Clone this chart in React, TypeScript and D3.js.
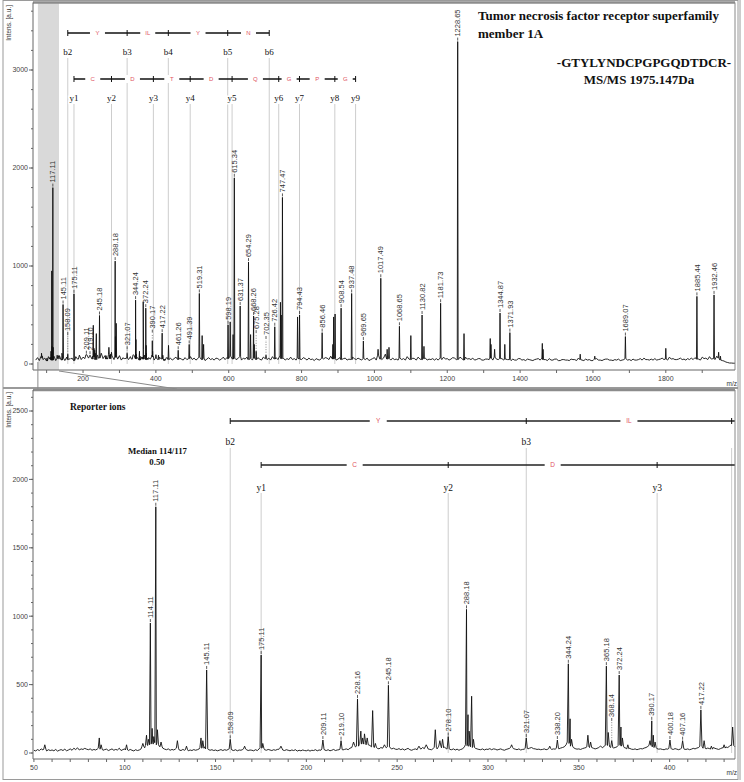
import * as d3 from 'd3';

// fragment ion ladders (m/z)
const bIons = [158.09, 321.07, 434.15, 597.2, 711.24];
const bNames = ['b2', 'b3', 'b4', 'b5', 'b6'];
const bResidues = ['Y', 'IL', 'Y', 'N'];
const yIons = [175.11, 278.1, 393.13, 494.18, 609.2, 737.26, 794.28, 891.33, 948.35];
const yNames = ['y1', 'y2', 'y3', 'y4', 'y5', 'y6', 'y7', 'y8', 'y9'];
const yResidues = ['C', 'D', 'T', 'D', 'Q', 'G', 'P', 'G'];

// annotated peaks [m/z, intensity]
const labelledPeaks: [number, number][] = [
    [114.11, 950], [117.11, 1800], [145.11, 607], [158.09, 100], [175.11, 716],
    [209.11, 95], [219.1, 90], [228.16, 395], [245.18, 495], [278.1, 120],
    [288.18, 1050], [321.07, 110], [338.2, 95], [344.24, 652], [365.18, 635],
    [368.14, 90], [372.24, 570], [390.17, 235], [400.18, 95], [407.16, 90],
    [417.22, 315], [461.26, 140], [491.39, 200], [519.31, 720], [598.19, 400],
    [615.34, 1900], [631.37, 592], [654.29, 1040], [668.26, 490], [675.28, 130],
    [702.35, 90], [726.42, 380], [747.47, 1700], [794.43, 500], [856.46, 320],
    [908.54, 570], [937.48, 720], [969.65, 235], [1017.49, 875], [1068.65, 385],
    [1130.82, 500], [1181.73, 620], [1228.65, 3290], [1344.87, 520], [1371.93, 320],
    [1689.07, 280], [1885.44, 690], [1932.46, 705],
];

// unannotated peaks [m/z, intensity]
const otherPeaks: [number, number][] = [
    [56, 60], [86, 110], [87, 60], [101, 60], [110, 70], [112, 130], [113, 100],
    [115.1, 180], [116, 120], [118, 170], [120, 80], [129, 90], [134, 50], [142, 110],
    [143, 90], [166, 50], [176, 70], [186, 50], [226, 80], [230, 160], [231, 110],
    [232, 140], [233.5, 110], [236.5, 310], [238, 70], [243, 60], [262, 50], [266, 60],
    [271, 170], [273.5, 90], [275, 100], [289, 280], [289.6, 160], [291, 415], [292, 100],
    [313, 60], [334, 50], [345.2, 250], [346, 100], [355, 130], [356.5, 80], [362, 50],
    [366.2, 150], [373.2, 190], [374, 110], [377, 60], [389.2, 90], [391, 130], [392, 80],
    [419, 90], [423, 50], [430, 60], [434.7, 190],
    [527, 290], [531, 200], [604, 430], [612, 300], [660, 300], [670, 200], [742, 630],
    [744, 500], [789, 480], [886, 200], [888, 480], [892, 510], [1010, 150], [1035, 150],
    [1040, 170], [1100, 290], [1136, 180], [1246, 310], [1318, 260], [1320, 200],
    [1330, 150], [1358, 200], [1461, 210], [1463, 150], [1565, 100], [1605, 80],
    [1800, 160], [1945, 120], [1950, 80],
];

const topLabels = [
    117.11, 145.11, 158.09, 175.11, 209.11, 219.1, 245.18, 288.18, 321.07, 344.24, 372.24,
    390.17, 417.22, 461.26, 491.39, 519.31, 598.19, 615.34, 631.37, 654.29, 668.26, 675.28,
    702.35, 726.42, 747.47, 794.43, 856.46, 908.54, 937.48, 969.65, 1017.49, 1068.65,
    1130.82, 1181.73, 1228.65, 1344.87, 1371.93, 1689.07, 1885.44, 1932.46,
];
const bottomLabels = [
    114.11, 117.11, 145.11, 158.09, 175.11, 209.11, 219.1, 228.16, 245.18, 278.1, 288.18,
    321.07, 338.2, 344.24, 365.18, 368.14, 372.24, 390.17, 400.18, 407.16, 417.22,
];

// baseline noise, top: every 5 m/z from 70
const topNoise = [
    40, 65, 35, 80, 45, 60, 30, 75, 50, 40, 70, 35, 55, 85, 40, 60, 35, 70, 45, 55,
    60, 35, 75, 50, 90, 45, 70, 55, 95, 60, 80, 50, 75, 45, 90, 60, 110, 55, 85, 50,
    95, 55, 80, 45, 70, 50, 85, 40, 65, 55, 60, 45, 75, 50, 90, 55, 65, 40, 70, 50,
    80, 45, 65, 50, 75, 40, 60, 45, 70, 50, 55, 35, 65, 45, 60, 40, 55, 70, 45, 60,
    50, 40, 65, 45, 55, 75, 45, 60, 40, 55, 70, 45, 60, 35, 50, 65, 45, 55, 40, 60,
    55, 40, 50, 70, 45, 65, 55, 80, 50, 60, 45, 55, 75, 40, 60, 50, 70, 45, 55, 40,
    60, 45, 65, 50, 40, 70, 55, 45, 60, 40, 75, 50, 65, 45, 80, 55, 60, 40, 55, 45,
    70, 45, 55, 40, 60, 50, 45, 65, 55, 40, 60, 45, 50, 35, 55, 45, 40, 60, 50, 65,
    60, 45, 80, 50, 55, 40, 50, 65, 45, 55, 60, 40, 50, 45, 70, 55, 45, 60, 50, 40,
    55, 45, 60, 35, 45, 55, 65, 40, 90, 50, 45, 60, 100, 50, 55, 40, 60, 45, 50, 40,
    60, 45, 55, 40, 75, 50, 45, 60, 55, 40, 70, 50, 45, 55, 60, 40, 50, 45, 55, 40,
    55, 40, 60, 45, 70, 50, 55, 40, 50, 65, 60, 45, 45, 70, 55, 40, 70, 50, 55, 45,
    60, 40, 45, 55, 55, 40, 40, 50, 50, 45, 60, 40, 70, 50, 45, 55, 55, 40, 50, 45,
    45, 35, 50, 40, 40, 55, 55, 40, 45, 35, 50, 45, 40, 35, 45, 50, 55, 40, 60, 45,
    45, 35, 55, 40, 40, 50, 50, 35, 35, 45, 45, 40, 40, 35, 50, 45, 45, 35, 60, 45,
    40, 35, 50, 40, 45, 35, 35, 50, 55, 40, 40, 35, 45, 50, 50, 40, 40, 35, 45, 40,
    50, 35, 40, 45, 55, 40, 45, 35, 50, 40, 40, 45, 55, 40, 60, 45, 45, 40, 50, 40,
    55, 40, 45, 50, 60, 45, 50, 40, 70, 50, 55, 45, 45, 50, 60, 45, 50, 40, 55, 45,
    60, 45, 65, 50, 50, 40, 70, 55, 60, 45, 75, 50, 55, 45, 80, 60, 40, 35, 30, 20,
    15, 10, 10, 8, 8, 6,
];

// baseline noise, bottom: every 1 m/z from 50
const bottomNoise = [
    20, 15, 25, 18, 30, 22, 28, 15, 24, 18,
    22, 16, 26, 14, 20, 25, 18, 28, 16, 22,
    30, 20, 35, 25, 38, 22, 30, 26, 34, 28,
    24, 30, 20, 26, 22, 30, 35, 28, 20, 25,
    28, 18, 24, 30, 20, 26, 22, 35, 18, 25,
    30, 22, 18, 26, 20, 15, 24, 18, 22, 30,
    45, 38, 55, 60, 70, 65, 80, 75, 60, 50,
    45, 35, 28, 24, 30, 20, 26, 22, 30, 35,
    22, 18, 26, 20, 24, 16, 22, 18, 25, 20,
    24, 30, 40, 35, 45, 30, 26, 20, 24, 18,
    22, 16, 20, 25, 18, 24, 20, 26, 30, 22,
    18, 24, 16, 22, 20, 26, 30, 24, 18, 22,
    20, 16, 24, 18, 30, 40, 35, 24, 20, 26,
    22, 18, 24, 20, 26, 28, 34, 22, 18, 24,
    20, 16, 22, 18, 24, 14, 20, 16, 22, 18,
    16, 22, 14, 20, 18, 24, 16, 22, 20, 30,
    22, 18, 24, 16, 20, 26, 18, 22, 24, 28,
    22, 26, 30, 24, 35, 40, 55, 45, 50, 60,
    70, 65, 80, 75, 60, 55, 50, 45, 40, 35,
    30, 40, 35, 45, 38, 45, 40, 30, 35, 28,
    26, 32, 24, 30, 22, 28, 34, 24, 20, 26,
    30, 24, 36, 28, 40, 32, 44, 30, 26, 24,
    35, 40, 30, 45, 50, 38, 44, 32, 30, 26,
    24, 30, 22, 28, 20, 26, 30, 45, 60, 55,
    50, 45, 40, 35, 30, 26, 24, 30, 22, 28,
    26, 32, 24, 30, 28, 22, 26, 30, 24, 20,
    26, 30, 35, 40, 32, 28, 24, 30, 22, 26,
    28, 34, 30, 36, 40, 32, 30, 26, 28, 24,
    26, 30, 24, 28, 32, 26, 30, 28, 34, 30,
    36, 40, 45, 60, 80, 70, 50, 40, 32, 28,
    30, 26, 32, 36, 40, 45, 50, 40, 35, 30,
    34, 40, 45, 38, 50, 55, 60, 45, 40, 36,
    40, 45, 55, 60, 50, 40, 35, 30, 34, 28,
    26, 30, 24, 28, 32, 30, 36, 40, 48, 55,
    60, 45, 40, 32, 28, 30, 26, 24, 30, 28,
    34, 30, 26, 32, 28, 24, 30, 35, 28, 26,
    30, 24, 28, 34, 30, 36, 40, 50, 45, 35,
    30, 36, 32, 28, 40, 34, 30, 26, 32, 38,
    36, 44, 40, 50, 60, 55, 45,
];

const topYTicks = [0, 1000, 2000, 3000];
const bottomYTicks = [0, 500, 1000, 1500, 2000, 2500];
const topXTicks = [200, 400, 600, 800, 1000, 1200, 1400, 1600, 1800];
const bottomXTicks = [50, 100, 150, 200, 250, 300, 350, 400];
const zoomWindow = [76, 134];

// labels that sit above their peak on a dotted leader (label height in intensity units)
const topLift: Record<string, number> = { '158.09': 285, '321.07': 140, '390.17': 310, '675.28': 305, '702.35': 245 };
const bottomLift: Record<string, number> = { '368.14': 227 };

const SANS = 'Liberation Sans, Arial, sans-serif';
const SERIF = 'Liberation Serif, Times New Roman, serif';
const RED = '#e0525e';

const allPeaks = [...labelledPeaks, ...otherPeaks];
const intensityOf = new Map(labelledPeaks.map(([m, v]) => [m.toFixed(2), v]));

function spectrumPoints(noise: number[], start: number, step: number, w: number, lo: number, hi: number) {
    const pts: [number, number][] = [];
    noise.forEach((v, i) => {
        const m = start + i * step;
        if (!allPeaks.some((p) => Math.abs(p[0] - m) < w)) pts.push([m, v]);
    });
    allPeaks.forEach(([m, v]) => {
        const base = noise[Math.max(0, Math.min(noise.length - 1, Math.round((m - start) / step)))];
        pts.push([m - w, base], [m, v], [m + w, base]);
    });
    return pts.filter((p) => p[0] >= lo && p[0] <= hi).sort((a, b) => a[0] - b[0]);
}

type Box = { left: number; right: number; top: number; bottom: number };

function Axes({ x, y, box, xTicks, xMinor, yTicks, yMinor, yMax }: any) {
    const b: Box = box;
    const [lo, hi] = x.domain();
    const minorX = d3.range(Math.ceil(lo / xMinor) * xMinor, hi, xMinor);
    const minorY = d3.range(0, yMax, yMinor);
    return (
        <g fontFamily={SANS} fontSize={7} fill="#444">
            <line x1={b.left} x2={b.right} y1={b.top} y2={b.top} stroke="#8c8c8c" strokeWidth={2.5} />
            <line x1={b.right} x2={b.right} y1={b.top} y2={b.bottom} stroke="#888" />
            <line x1={b.left} x2={b.right} y1={b.bottom} y2={b.bottom} stroke="#666" />
            <line x1={b.left} x2={b.left} y1={b.top} y2={b.bottom} stroke="#666" />
            {minorX.map((m: number) => (
                <line key={'mx' + m} x1={x(m)} x2={x(m)} y1={b.bottom} y2={b.bottom + 3} stroke="#666" />
            ))}
            {xTicks.map((m: number) => (
                <text key={'tx' + m} x={x(m)} y={b.bottom + 11} textAnchor="middle">
                    {m}
                </text>
            ))}
            {minorY.map((v: number) => (
                <line key={'my' + v} x1={b.left - 2} x2={b.left} y1={y(v)} y2={y(v)} stroke="#666" />
            ))}
            {yTicks.map((v: number) => (
                <g key={'ty' + v}>
                    <line x1={b.left - 4} x2={b.left} y1={y(v)} y2={y(v)} stroke="#666" />
                    <text x={b.left - 5} y={y(v)} dy="0.35em" textAnchor="end">
                        {v}
                    </text>
                </g>
            ))}
        </g>
    );
}

function GuideLines({ x, ions, top, bottom }: any) {
    const [lo, hi] = x.domain();
    return (
        <g stroke="#cdcdcd" strokeWidth={1}>
            {ions
                .filter((m: number) => m >= lo && m <= hi)
                .map((m: number) => (
                    <line key={m} x1={x(m)} x2={x(m)} y1={top} y2={bottom} />
                ))}
        </g>
    );
}

function Ladder({ x, ions, names, residues, lineY, labelY, stroke, width, gap, resSize, nameSize }: any) {
    const [lo, hi] = x.domain();
    const x0 = x(ions[0]);
    const x1 = x(Math.min(ions[ions.length - 1], hi));
    const edge = x(hi) - 8;
    return (
        <g>
            <line x1={x0} x2={x1} y1={lineY} y2={lineY} stroke={stroke} strokeWidth={width} />
            {ions.map((m: number, i: number) =>
                m <= hi ? (
                    <g key={m}>
                        <line x1={x(m)} x2={x(m)} y1={lineY - 3} y2={lineY + 3} stroke="#111" strokeWidth={1} />
                        {x(m) < edge && (
                            <text
                                x={x(m)}
                                y={labelY}
                                textAnchor="middle"
                                fontFamily={SERIF}
                                fontSize={nameSize}
                                fill="#111"
                                stroke="#fff"
                                strokeWidth={3}
                                paintOrder="stroke"
                            >
                                {names[i]}
                            </text>
                        )}
                    </g>
                ) : null
            )}
            {residues.map((r: string, i: number) => {
                const mid = (ions[i] + ions[i + 1]) / 2;
                if (mid < lo || mid > hi) return null;
                return (
                    <g key={'r' + i}>
                        <rect x={x(mid) - gap / 2} y={lineY - 4} width={gap} height={8} fill="#fff" />
                        <text x={x(mid)} y={lineY} dy="0.35em" textAnchor="middle" fontFamily={SANS} fontSize={resSize} fill={RED}>
                            {r}
                        </text>
                    </g>
                );
            })}
        </g>
    );
}

function PeakLabels({ x, y, labels, lift }: any) {
    return (
        <g fontFamily={SANS} fontSize={7.5} fill="#333">
            {labels.map((m: number) => {
                const key = m.toFixed(2);
                const v = intensityOf.get(key) as number;
                const px = x(m);
                const py = y(v);
                const ly = lift[key] !== undefined ? y(lift[key]) : py;
                return (
                    <g key={key}>
                        {ly < py - 1 && (
                            <line x1={px} x2={px} y1={py} y2={ly} stroke="#666" strokeWidth={0.8} strokeDasharray="1,1.5" />
                        )}
                        <line x1={px} x2={px} y1={ly - 1} y2={ly - 4} stroke="#333" strokeWidth={0.8} />
                        <text transform={`translate(${px},${ly - 5}) rotate(-90)`} dy="0.35em" textAnchor="start">
                            {key}
                        </text>
                    </g>
                );
            })}
        </g>
    );
}

export default function App() {
    // top panel: whole spectrum
    const topBox: Box = { left: 33, right: 735, top: 2.5, bottom: 370 };
    const xTop = d3.scaleLinear().domain([62.6, 1990]).range([topBox.left, topBox.right]);
    const yTop = d3.scaleLinear().domain([0, 3000]).range([364, 70]);
    // bottom panel: low-mass region
    const botBox: Box = { left: 33, right: 735, top: 390, bottom: 759 };
    const xBot = d3.scaleLinear().domain([49.5, 436]).range([botBox.left, botBox.right]);
    const yBot = d3.scaleLinear().domain([0, 2500]).range([753, 411]);

    const line = (x: any, y: any) =>
        d3
            .line<[number, number]>()
            .x((d) => x(d[0]))
            .y((d) => y(d[1]));

    const topPath = line(xTop, yTop)(spectrumPoints(topNoise, 70, 5, 1.2, 62.6, 1990)) || '';
    const botPath = line(xBot, yBot)(spectrumPoints(bottomNoise, 50, 1, 0.6, 49.5, 436)) || '';

    return (
        <svg width={744} height={782} style={{ position: 'absolute', left: 0, top: 0, background: '#fff' }}>
            <rect x={0} y={0} width={744} height={782} fill="#fff" />
            {/* outer frames */}
            <rect x={3} y={0.5} width={735} height={387} fill="none" stroke="#9a9a9a" />
            <rect x={3} y={388.5} width={735} height={391} fill="none" stroke="#9a9a9a" />
            <line x1={740} x2={740} y1={0} y2={780} stroke="#9a9a9a" />

            {/* ---------- top panel ---------- */}
            <rect
                x={xTop(zoomWindow[0])}
                y={topBox.top}
                width={xTop(zoomWindow[1]) - xTop(zoomWindow[0])}
                height={topBox.bottom - topBox.top}
                fill="#d9d9d9"
            />
            <GuideLines x={xTop} ions={bIons} top={58} bottom={yTop(0)} />
            <GuideLines x={xTop} ions={yIons} top={104} bottom={yTop(0)} />
            <path d={topPath} fill="none" stroke="#111" strokeWidth={0.9} />
            <PeakLabels x={xTop} y={yTop} labels={topLabels} lift={topLift} />
            <Ladder x={xTop} ions={bIons} names={bNames} residues={bResidues} lineY={33} labelY={55} stroke="#111" width={1.4} gap={15} resSize={6} nameSize={9} />
            <Ladder x={xTop} ions={yIons} names={yNames} residues={yResidues} lineY={79} labelY={101} stroke="#111" width={1.4} gap={15} resSize={6} nameSize={9} />
            <Axes x={xTop} y={yTop} box={topBox} xTicks={topXTicks} xMinor={100} yTicks={topYTicks} yMinor={200} yMax={3700} />
            <text transform="translate(11,5) rotate(-90)" textAnchor="end" fontFamily={SANS} fontSize={6.5} fill="#333">
                Intens. [a.u.]
            </text>
            <text x={737} y={386} textAnchor="end" fontFamily={SANS} fontSize={6.5} fill="#333">
                m/z
            </text>
            <g fontFamily={SERIF} fontWeight="bold" fontSize={13} fill="#111">
                <text x={478} y={19.5}>Tumor necrosis factor receptor superfamily</text>
                <text x={478} y={38}>member 1A</text>
                <text x={644} y={66.5} textAnchor="middle">-GTYLYNDCPGPGQDTDCR-</text>
                <text x={639} y={83.5} textAnchor="middle">MS/MS 1975.147Da</text>
            </g>
            {/* zoom connectors */}
            <line x1={xTop(zoomWindow[0])} x2={xTop(zoomWindow[0])} y1={362} y2={389} stroke="#8a8a8a" />
            <line x1={xTop(zoomWindow[1])} x2={177} y1={371} y2={389} stroke="#8a8a8a" />

            {/* ---------- bottom panel ---------- */}
            <GuideLines x={xBot} ions={bIons} top={448} bottom={yBot(0)} />
            <GuideLines x={xBot} ions={yIons} top={493} bottom={yBot(0)} />
            <path d={botPath} fill="none" stroke="#111" strokeWidth={0.9} />
            <PeakLabels x={xBot} y={yBot} labels={bottomLabels} lift={bottomLift} />
            <Ladder x={xBot} ions={bIons} names={bNames} residues={bResidues} lineY={421} labelY={445} stroke="#5a5a5a" width={2} gap={17} resSize={6.5} nameSize={9.5} />
            <Ladder x={xBot} ions={yIons} names={yNames} residues={yResidues} lineY={465} labelY={491} stroke="#222" width={1.4} gap={16} resSize={6.5} nameSize={9.5} />
            <Axes x={xBot} y={yBot} box={botBox} xTicks={bottomXTicks} xMinor={10} yTicks={bottomYTicks} yMinor={100} yMax={2650} />
            <text transform="translate(11,392) rotate(-90)" textAnchor="end" fontFamily={SANS} fontSize={6.5} fill="#333">
                Intens. [a.u.]
            </text>
            <text x={737} y={775} textAnchor="end" fontFamily={SANS} fontSize={6.5} fill="#333">
                m/z
            </text>
            <g fontFamily={SERIF} fontWeight="bold" fill="#111">
                <text x={70} y={410} fontSize={9.5}>Reporter ions</text>
                <text x={157.5} y={454} fontSize={8.8} textAnchor="middle">Median 114/117</text>
                <text x={157} y={465} fontSize={8.8} textAnchor="middle">0.50</text>
            </g>
        </svg>
    );
}
